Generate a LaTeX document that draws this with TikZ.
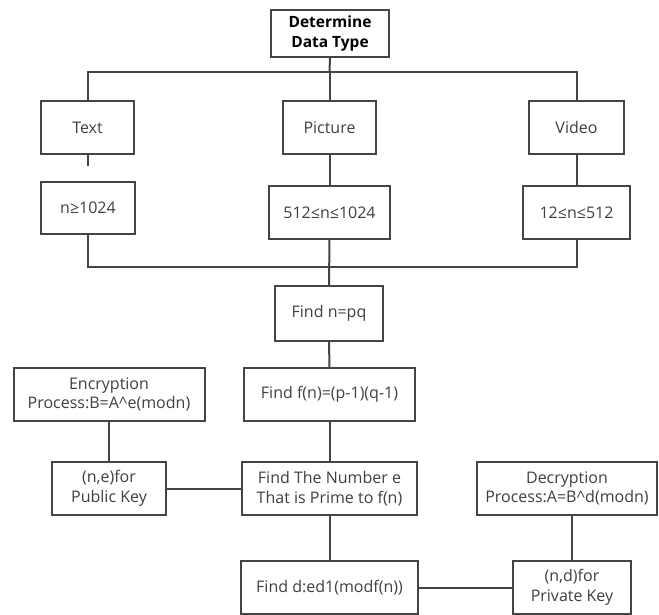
\documentclass[tikz,border=0pt]{standalone}
\usepackage{fontspec}
\setmainfont{Open Sans}
\definecolor{ln}{HTML}{444444}
\definecolor{tx}{HTML}{404040}
\tikzset{
  box/.style={draw=ln, line width=2pt, fill=white, text=tx, align=center, inner sep=1pt,
    font=\fontsize{16}{19.5}\selectfont},
  conn/.style={draw=ln, line width=2pt},
}
\begin{document}
\begin{tikzpicture}[x=1pt,y=-1pt]
\useasboundingbox (0,0) rectangle (659,615);
\node[box, minimum width=118pt, minimum height=47pt, font=\fontsize{15.5}{19.5}\selectfont\bfseries, text=black] (top) at (330,33.5) {Determine\\Data Type};
\node[box, minimum width=93pt, minimum height=53pt] (text) at (87.5,127.5) {Text};
\node[box, minimum width=93pt, minimum height=53pt] (pic) at (329.5,127.5) {Picture};
\node[box, minimum width=95pt, minimum height=53pt] (vid) at (576.5,127.5) {Video};
\node[box, minimum width=94pt, minimum height=52pt] (n1) at (88,208) {n≥1024};
\node[box, minimum width=121pt, minimum height=53pt] (n2) at (329.5,212.5) {512≤n≤1024};
\node[box, minimum width=107pt, minimum height=53pt] (n3) at (576.5,212.5) {12≤n≤512};
\node[box, minimum width=108pt, minimum height=55pt] (fn) at (329,313.5) {Find n=pq};
\node[box, minimum width=171pt, minimum height=53pt] (ff) at (329.5,394.5) {Find f(n)=(p-1)(q-1)};
\node[box, minimum width=191pt, minimum height=53pt] (enc) at (109,394.5) {Encryption\\Process:B=A\^{}e(modn)};
\node[box, minimum width=114pt, minimum height=53pt] (pub) at (109,488.5) {(n,e)for\\Public Key};
\node[box, minimum width=175pt, minimum height=53pt] (fe) at (329.5,488.5) {Find The Number e\\That is Prime to f(n)};
\node[box, minimum width=180pt, minimum height=53pt] (dec) at (567,488.5) {Decryption\\Process:A=B\^{}d(modn)};
\node[box, minimum width=177pt, minimum height=53pt] (fd) at (329.5,587.5) {Find d:ed1(modf(n))};
\node[box, minimum width=118pt, minimum height=53pt] (priv) at (572,587.5) {(n,d)for\\Private Key};
\coordinate (bus1) at (329.5,72);
\coordinate (bus2) at (329.5,267);
\coordinate (stub) at (87.5,166);
% top bus
\draw[conn] (top.south) -- (bus1);
\draw[conn] (text.north) |- (bus1) -| (vid.north);
\draw[conn] (bus1) -- (pic.north);
\draw[conn] (text.south) -- (stub);
\draw[conn] (pic.south) -- (n2.north);
\draw[conn] (vid.south) -- (n3.north);
% bottom bus
\draw[conn] (n1.south) |- (bus2) -| (n3.south);
\draw[conn] (n2.south) -- (fn.north);
\draw[conn] (fn.south) -- (ff.north);
\draw[conn] (ff.south) -- (fe.north);
\draw[conn] (enc.south) -- (pub.north);
\draw[conn] (pub.east) -- (fe.west);
\draw[conn] (fe.south) -- (fd.north);
\draw[conn] (fd.east) -- (priv.west);
\draw[conn] (priv.north) -- (priv.north |- dec.south);
\end{tikzpicture}
\end{document}
